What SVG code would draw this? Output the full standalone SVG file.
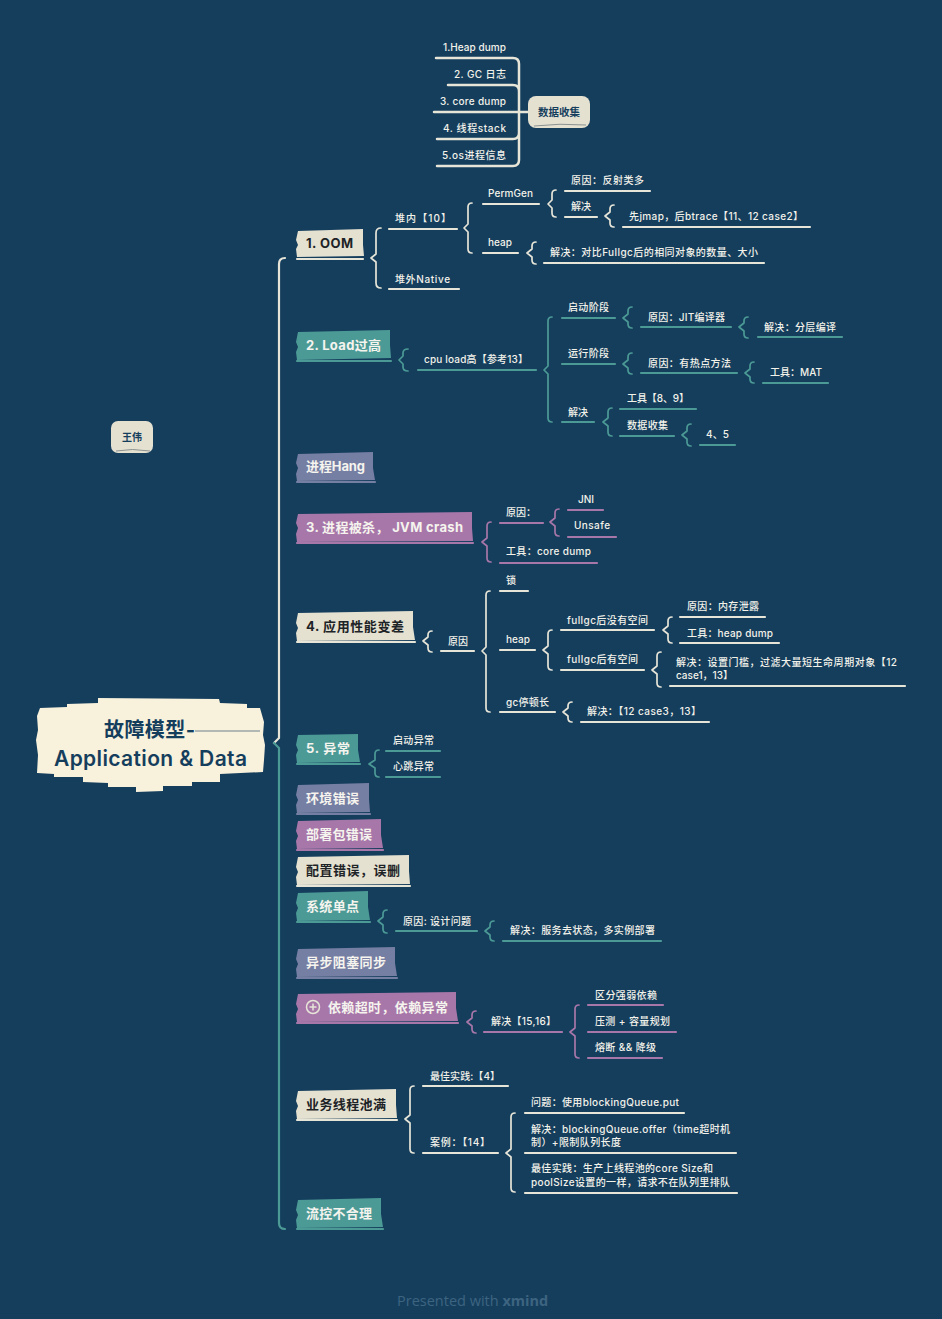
<svg xmlns="http://www.w3.org/2000/svg" width="942" height="1319" viewBox="0 0 942 1319">
<style>
text{font-family:Inter,"Noto Sans CJK SC",sans-serif;dominant-baseline:central}
.s{font-size:10px;fill:#f3f2ea;font-weight:500}
.n{font-size:13px;font-weight:700;fill:#f5f4ee}
.d{fill:#1d2326}
.u{fill:none;stroke-width:2.2;stroke-linecap:round}
.b{fill:none;stroke-width:1.7;stroke-linecap:round;stroke-linejoin:round}
.W{stroke:#e6e5d8}.T{stroke:#4c9a96}.P{stroke:#a877a9}
.fW{fill:#e4e1d1}.fT{fill:#4c9a96}.fP{fill:#a877a9}.fS{fill:#757ea3}
.oS{stroke:#757ea3}
</style>
<rect width="942" height="1319" fill="#153e5d"/>
<g id="connectors">
<path class="b W" style="stroke-width:2.2" d="M285 258Q279 258 279 264V738L274 743"/>
<path class="b T" style="stroke-width:2.2" d="M274 743L279 748V1223Q279 1229 285 1229"/>
<path class="b W" style="stroke-width:2.5" d="M436 58H513Q519 58 519 64V160Q519 166 513 166H437M448 85H513Q519 85 519 91M434 112H528M437 139H513Q519 139 519 133"/>
<g class="b W">
<path d="M381 228Q376 228 376 233V254L371 258L376 262V283Q376 288 381 288"/>
<path d="M472 203Q468 203 468 207V224L464 228L468 232V249Q468 253 472 253"/>
<path d="M556 190Q552 190 552 194V200L548 204L552 208V213Q552 217 556 217"/>
<path d="M614 205Q610 205 610 209V212L605 216L610 220V223Q610 227 614 227"/>
<path d="M536 242Q532 242 532 246V249L527 253L532 257V260Q532 264 536 264"/>
<path d="M432 631Q428 631 428 635V637L423 641L428 645V648Q428 652 432 652"/>
<path d="M490 591Q486 591 486 595V647L482 651L486 655V708Q486 712 490 712"/>
<path d="M552 630Q548 630 548 634V646L543 650L548 654V666Q548 670 552 670"/>
<path d="M672 617Q668 617 668 621V626L663 630L668 634V639Q668 643 672 643"/>
<path d="M661 652Q657 652 657 656V666L652 670L657 674V683Q657 687 661 687"/>
<path d="M572 702Q568 702 568 706V708L563 712L568 716V718Q568 722 572 722"/>
<path d="M414 1086Q410 1086 410 1090V1115L405 1119L410 1123V1149Q410 1153 414 1153"/>
<path d="M515 1113Q511 1113 511 1117V1149L506 1153L511 1157V1188Q511 1192 515 1192"/>
</g>
<g class="b T">
<path d="M408 349Q403 349 403 353V356L399 360L403 364V367Q403 371 408 371"/>
<path d="M552 317Q548 317 548 321V366L544 370L548 374V418Q548 422 552 422"/>
<path d="M632 307Q628 307 628 311V314L623 318L628 322V324Q628 328 632 328"/>
<path d="M748 317Q744 317 744 321V323L739 327L744 331V334Q744 338 748 338"/>
<path d="M632 353Q628 353 628 357V360L623 364L628 368V370Q628 374 632 374"/>
<path d="M754 362Q750 362 750 366V369L745 373L750 377V379Q750 383 754 383"/>
<path d="M612 408Q608 408 608 412V418L603 422L608 426V432Q608 436 612 436"/>
<path d="M691 424Q687 424 687 428V431L682 435L687 439V442Q687 446 691 446"/>
<path d="M379 750Q375 750 375 754V760L369 764L375 768V773Q375 777 379 777"/>
<path d="M387 910Q383 910 383 914V917L378 921L383 925V929Q383 933 387 933"/>
<path d="M494 921Q490 921 490 925V927L485 931L490 935V937Q490 941 494 941"/>
</g>
<g class="b P">
<path d="M491 522Q487 522 487 526V538L482 542L487 546V558Q487 562 491 562"/>
<path d="M559 509Q555 509 555 513V518L550 522L555 526V532Q555 536 559 536"/>
<path d="M476 1011Q472 1011 472 1015V1018L467 1022L472 1026V1029Q472 1033 476 1033"/>
<path d="M579 1005Q575 1005 575 1009V1028L570 1032L575 1036V1054Q575 1058 579 1058"/>
</g>
</g>
<g id="root">
<path fill="#f8f2dd" d="M37 716L40 708L67 707V704L98 703V698L219 699L220 703L247 704V708L260 708L264 722L263 735L265 745L264 760L263 772L220 774V782L192 782V786L163 786V791L136 792V787L108 787V783L83 782V777L54 777V774L37 773L38 755L36 740L38 730Z"/>
<path d="M195 731H260" stroke="#6d7f89" stroke-width="1.2" fill="none"/>
<text x="104" y="730" font-size="20" font-weight="700" fill="#153e5d" textLength="91">故障模型-</text>
<text x="54" y="758" font-size="21" font-weight="600" fill="#153e5d" textLength="193">Application &amp; Data</text>
</g>
<g id="wangwei"><rect x="111" y="421" width="42" height="32" rx="7" fill="#e4e1d1"/><path d="M116 451Q132 448 150 451" stroke="#8b9291" fill="none"/><text x="122" y="437" font-size="10" font-weight="700" fill="#153e5d" textLength="20">王伟</text></g>
<g id="data-collect"><rect x="528" y="96" width="62" height="32" rx="8" fill="#e4e1d1"/><path d="M534 126Q560 123 586 125" stroke="#8b9291" fill="none"/><text x="538" y="112" font-size="10.5" font-weight="700" fill="#153e5d" textLength="42">数据收集</text></g>
<g id="dc1"><text class="s" x="443" y="47" textLength="63">1.Heap dump</text></g>
<g id="dc2"><text class="s" x="454" y="74" textLength="52">2. GC 日志</text></g>
<g id="dc3"><text class="s" x="440" y="101" textLength="66">3. core dump</text></g>
<g id="dc4"><text class="s" x="443" y="128" textLength="63">4. 线程stack</text></g>
<g id="dc5"><text class="s" x="442" y="155" textLength="64">5.os进程信息</text></g>

<g id="n1"><path class="fW" d="M298 231L363 229V245L364 256L297 257L296 249L298 245L296 240Z"/><path class="u W" d="M297 259H363"/><text class="n d" x="306" y="243" textLength="47">1. OOM</text></g>
<g id="n1a"><path class="u W" d="M389 229H457"/><text class="s" x="395" y="218" textLength="56">堆内【10】</text></g>
<g id="n1b"><path class="u W" d="M389 289H459"/><text class="s" x="395" y="279" textLength="55">堆外Native</text></g>
<g id="n1c"><path class="u W" d="M483 204H539"/><text class="s" x="488" y="193" textLength="45">PermGen</text></g>
<g id="n1d"><path class="u W" d="M483 253H518"/><text class="s" x="488" y="242" textLength="24">heap</text></g>
<g id="n1e"><path class="u W" d="M565 191H650"/><text class="s" x="571" y="180" textLength="73">原因：反射类多</text></g>
<g id="n1f"><path class="u W" d="M565 217H597"/><text class="s" x="571" y="206" textLength="20">解决</text></g>
<g id="n1g"><path class="u W" d="M623 227H810"/><text class="s" x="629" y="216" textLength="174">先jmap，后btrace【11、12 case2】</text></g>
<g id="n1h"><path class="u W" d="M544 263H764"/><text class="s" x="550" y="252" textLength="208">解决：对比Fullgc后的相同对象的数量、大小</text></g>

<g id="n2"><path class="fT" d="M298 332L390 330V345L391 358L297 360L296 352L298 347L296 342Z"/><path class="u T" d="M297 361H391"/><text class="n" x="306" y="345" textLength="75">2. Load过高</text></g>
<g id="n2a"><path class="u T" d="M418 370H536"/><text class="s" x="424" y="359" textLength="104">cpu load高【参考13】</text></g>
<g id="n2b"><path class="u T" d="M562 318H615"/><text class="s" x="568" y="307" textLength="41">启动阶段</text></g>
<g id="n2c"><path class="u T" d="M562 364H615"/><text class="s" x="568" y="353" textLength="41">运行阶段</text></g>
<g id="n2d"><path class="u T" d="M562 422H594"/><text class="s" x="568" y="412" textLength="20">解决</text></g>
<g id="n2e"><path class="u T" d="M641 327H731"/><text class="s" x="648" y="317" textLength="77">原因：JIT编译器</text></g>
<g id="n2f"><path class="u T" d="M758 337H842"/><text class="s" x="764" y="327" textLength="72">解决：分层编译</text></g>
<g id="n2g"><path class="u T" d="M641 373H737"/><text class="s" x="648" y="363" textLength="83">原因：有热点方法</text></g>
<g id="n2h"><path class="u T" d="M763 383H828"/><text class="s" x="770" y="372" textLength="52">工具：MAT</text></g>
<g id="n2i"><path class="u T" d="M620 409H696"/><text class="s" x="627" y="398" textLength="62">工具【8、9】</text></g>
<g id="n2j"><path class="u T" d="M620 436H674"/><text class="s" x="627" y="425" textLength="41">数据收集</text></g>
<g id="n2k"><path class="u T" d="M700 445H735"/><text class="s" x="706" y="434" textLength="23">4、5</text></g>

<g id="hang"><path class="fS" d="M298 454L373 452V468L375 480L297 481L296 474L298 468L296 463Z"/><path class="u oS" d="M297 482H375"/><text class="n" x="306" y="466" textLength="59">进程Hang</text></g>

<g id="n3"><path class="fP" d="M298 514L472 512V528L473 541L297 542L296 534L298 528L296 523Z"/><path class="u P" d="M297 543H473"/><text class="n" x="306" y="527" textLength="157">3. 进程被杀， JVM crash</text></g>
<g id="n3a"><path class="u P" d="M500 523H543"/><text class="s" x="506" y="512" textLength="30">原因：</text></g>
<g id="n3b"><path class="u P" d="M568 510H603"/><text class="s" x="578" y="499" textLength="16">JNI</text></g>
<g id="n3c"><path class="u P" d="M568 537H616"/><text class="s" x="574" y="525" textLength="36">Unsafe</text></g>
<g id="n3d"><path class="u P" d="M500 563H597"/><text class="s" x="506" y="551" textLength="85">工具：core dump</text></g>

<g id="n4"><path class="fW" d="M298 613L413 611V627L415 640L297 641L296 633L298 628L296 623Z"/><path class="u W" d="M297 642H415"/><text class="n d" x="306" y="626" textLength="98">4. 应用性能变差</text></g>
<g id="n4a"><path class="u W" d="M441 651H474"/><text class="s" x="448" y="641" textLength="20">原因</text></g>
<g id="n4b"><path class="u W" d="M500 591H528"/><text class="s" x="506" y="580" textLength="10">锁</text></g>
<g id="n4c"><path class="u W" d="M500 650H535"/><text class="s" x="506" y="639" textLength="24">heap</text></g>
<g id="n4d"><path class="u W" d="M500 712H555"/><text class="s" x="506" y="702" textLength="43">gc停顿长</text></g>
<g id="n4e"><path class="u W" d="M561 630H654"/><text class="s" x="567" y="620" textLength="81">fullgc后没有空间</text></g>
<g id="n4f"><path class="u W" d="M561 670H644"/><text class="s" x="567" y="659" textLength="71">fullgc后有空间</text></g>
<g id="n4g"><path class="u W" d="M680 617H765"/><text class="s" x="687" y="606" textLength="72">原因：内存泄露</text></g>
<g id="n4h"><path class="u W" d="M680 643H779"/><text class="s" x="687" y="633" textLength="86">工具：heap dump</text></g>
<g id="n4i"><path class="u W" d="M670 686H905"/><text class="s" x="676" y="662" textLength="221">解决：设置门槛，过滤大量短生命周期对象【12</text><text class="s" x="676" y="675" textLength="57">case1，13】</text></g>
<g id="n4j"><path class="u W" d="M581 722H709"/><text class="s" x="587" y="711" textLength="114">解决：【12 case3，13】</text></g>

<g id="n5"><path class="fT" d="M298 735L358 734V750L360 762L297 763L296 755L298 750L296 745Z"/><path class="u T" d="M297 764H360"/><text class="n" x="306" y="748" textLength="44">5. 异常</text></g>
<g id="n5a"><path class="u T" d="M386 751H440"/><text class="s" x="393" y="740" textLength="41">启动异常</text></g>
<g id="n5b"><path class="u T" d="M386 777H440"/><text class="s" x="393" y="766" textLength="41">心跳异常</text></g>

<g id="env"><path class="fS" d="M298 785L369 783V799L370 812L297 813L296 805L298 800L296 795Z"/><path class="u oS" d="M297 814H370"/><text class="n" x="306" y="798" textLength="53">环境错误</text></g>
<g id="pkg"><path class="fP" d="M298 821L381 819V835L383 848L297 849L296 841L298 836L296 831Z"/><path class="u P" d="M297 850H383"/><text class="n" x="306" y="834" textLength="66">部署包错误</text></g>
<g id="cfg"><path class="fW" d="M298 857L409 855V871L410 884L297 885L296 877L298 872L296 867Z"/><path class="u W" d="M297 886H410"/><text class="n d" x="306" y="870" textLength="94">配置错误，误删</text></g>
<g id="spof"><path class="fT" d="M298 893L368 891V907L370 920L297 921L296 913L298 908L296 903Z"/><path class="u T" d="M297 922H370"/><text class="n" x="306" y="906" textLength="53">系统单点</text></g>
<g id="spofa"><path class="u T" d="M396 931H477"/><text class="s" x="403" y="921" textLength="68">原因: 设计问题</text></g>
<g id="spofb"><path class="u T" d="M503 941H661"/><text class="s" x="510" y="930" textLength="145">解决：服务去状态，多实例部署</text></g>
<g id="async"><path class="fS" d="M298 949L395 947V963L397 976L297 977L296 969L298 964L296 959Z"/><path class="u oS" d="M297 978H397"/><text class="n" x="306" y="962" textLength="80">异步阻塞同步</text></g>

<g id="dep"><path class="fP" d="M298 994L456 992V1008L458 1021L297 1022L296 1014L298 1009L296 1004Z"/><path class="u P" d="M297 1023H458"/><circle cx="313" cy="1007" r="6.5" fill="none" stroke="#e6e5d8" stroke-width="1.5"/><path d="M309.500 1007H316.500M313 1003.500V1010.500" stroke="#e6e5d8" stroke-width="1.500" fill="none"/><text class="n" x="328" y="1007" textLength="120">依赖超时，依赖异常</text></g>
<g id="depa"><path class="u P" d="M484 1032H562"/><text class="s" x="491" y="1021" textLength="65">解决【15,16】</text></g>
<g id="depb"><path class="u P" d="M588 1005H663"/><text class="s" x="595" y="995" textLength="62">区分强弱依赖</text></g>
<g id="depc"><path class="u P" d="M588 1032H676"/><text class="s" x="595" y="1021" textLength="75">压测 + 容量规划</text></g>
<g id="depd"><path class="u P" d="M588 1058H662"/><text class="s" x="595" y="1047" textLength="61">熔断 &amp;&amp; 降级</text></g>

<g id="pool"><path class="fW" d="M298 1091L396 1089V1105L397 1118L297 1119L296 1111L298 1106L296 1101Z"/><path class="u W" d="M297 1120H397"/><text class="n d" x="306" y="1104" textLength="80">业务线程池满</text></g>
<g id="poola"><path class="u W" d="M423 1086H508"/><text class="s" x="430" y="1076" textLength="70">最佳实践:【4】</text></g>
<g id="poolb"><path class="u W" d="M423 1153H498"/><text class="s" x="430" y="1142" textLength="60">案例：【14】</text></g>
<g id="poolc"><path class="u W" d="M525 1113H684"/><text class="s" x="531" y="1102" textLength="148">问题：使用blockingQueue.put</text></g>
<g id="poold"><path class="u W" d="M525 1153H736"/><text class="s" x="531" y="1129" textLength="199">解决：blockingQueue.offer（time超时机</text><text class="s" x="531" y="1142" textLength="90">制）+限制队列长度</text></g>
<g id="poole"><path class="u W" d="M525 1193H737"/><text class="s" x="531" y="1168" textLength="182">最佳实践：生产上线程池的core Size和</text><text class="s" x="531" y="1182" textLength="199">poolSize设置的一样，请求不在队列里排队</text></g>
<g id="flow"><path class="fT" d="M298 1200L381 1198V1214L383 1227L297 1228L296 1220L298 1215L296 1210Z"/><path class="u T" d="M297 1229H383"/><text class="n" x="306" y="1213" textLength="66">流控不合理</text></g>
<text x="397" y="1300" font-size="14.5" style="font-family:'Open Sans',sans-serif" fill="#3d6480">Presented with <tspan font-weight="700">xmind</tspan></text>
</svg>
